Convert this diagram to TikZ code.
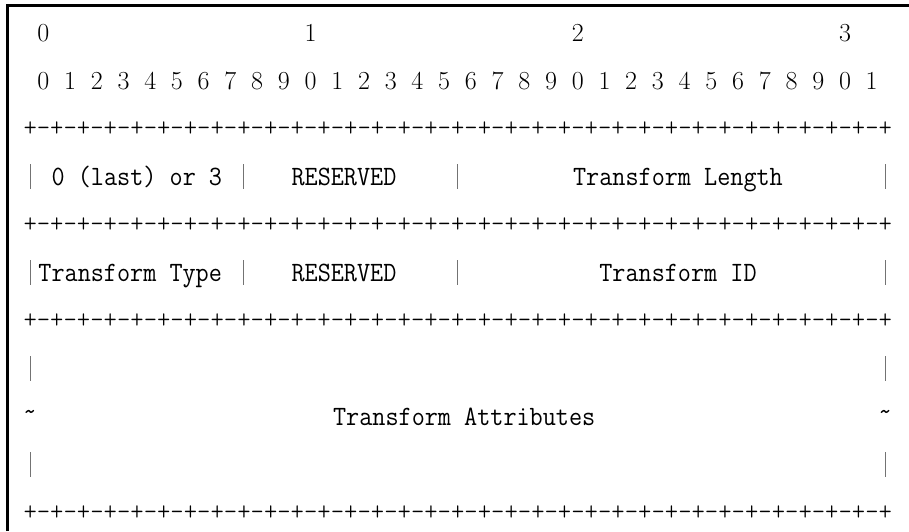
\documentclass[tikz,border=0pt]{standalone}
\usepackage{tikz}
\tikzstyle{digit}=[inner sep=0pt, anchor=base, font=\fontsize{26}{26}\selectfont]
\tikzstyle{field}=[inner sep=0pt, anchor=base, font=\ttfamily\fontsize{28}{28}\selectfont, xscale=0.909, transform shape]
\tikzstyle{ruler}=[field, anchor=base west, font=\ttfamily\fontseries{l}\fontsize{28}{28}\selectfont]
\tikzstyle{bar}=[draw, black!55, line width=1pt]
\tikzstyle{frame}=[draw, line width=2.6pt]

\begin{document}
\begin{tikzpicture}[x=1pt, y=-1pt]
    \useasboundingbox (0,0) rectangle (909,531);
    % Frame on the left and on top
    \draw[frame] (7.5,531) -- (7.5,5.5) -- (909,5.5);
    % Word numbers and bit numbers
    \foreach \b/\n in {0/0, 10/1, 20/2, 30/3}
        \node[digit] (word\n) at ({43.36+26.72*\b},41.4) {\n};
    \foreach \b in {0,...,31} {
        \pgfmathtruncatemacro\d{mod(\b,10)}
        \node[digit] (bit\b) at ({43.36+26.72*\b},89.4) {\d};
    }
    % The +-+- rules between the rows
    \foreach \y/\name in {129/rule0, 225/rule1, 321/rule2, 513/rule3}
        \node[ruler] (\name) at (23.32,\y+7)
            {+-+-+-+-+-+-+-+-+-+-+-+-+-+-+-+-+-+-+-+-+-+-+-+-+-+-+-+-+-+-+-+-+};
    % Field separators
    \foreach \x/\y in {30/177, 243.76/177, 457.52/177, 885.04/177,
                       30/273, 243.76/273, 457.52/273, 885.04/273,
                       30/369, 885.04/369, 30/465, 885.04/465}
        \draw[bar] (\x,\y-13) -- (\x,\y+12);
    \node[field] (cont0) at (30,420) {\textasciitilde};
    \node[field] (cont1) at (885.04,420) {\textasciitilde};
    % Field names
    \foreach \pos/\name/\txt in {{(136.88,185.5)/last/0 (last) or 3},
                                 {(343.96,185.5)/res1/RESERVED},
                                 {(677.96,185.5)/tlen/Transform Length},
                                 {(130.2,281.5)/ttype/Transform Type},
                                 {(343.96,281.5)/res2/RESERVED},
                                 {(677.96,281.5)/tid/Transform ID},
                                 {(464.2,425.5)/tattr/Transform Attributes}}
        \node[field] (\name) at \pos {\txt};
\end{tikzpicture}
\end{document}
